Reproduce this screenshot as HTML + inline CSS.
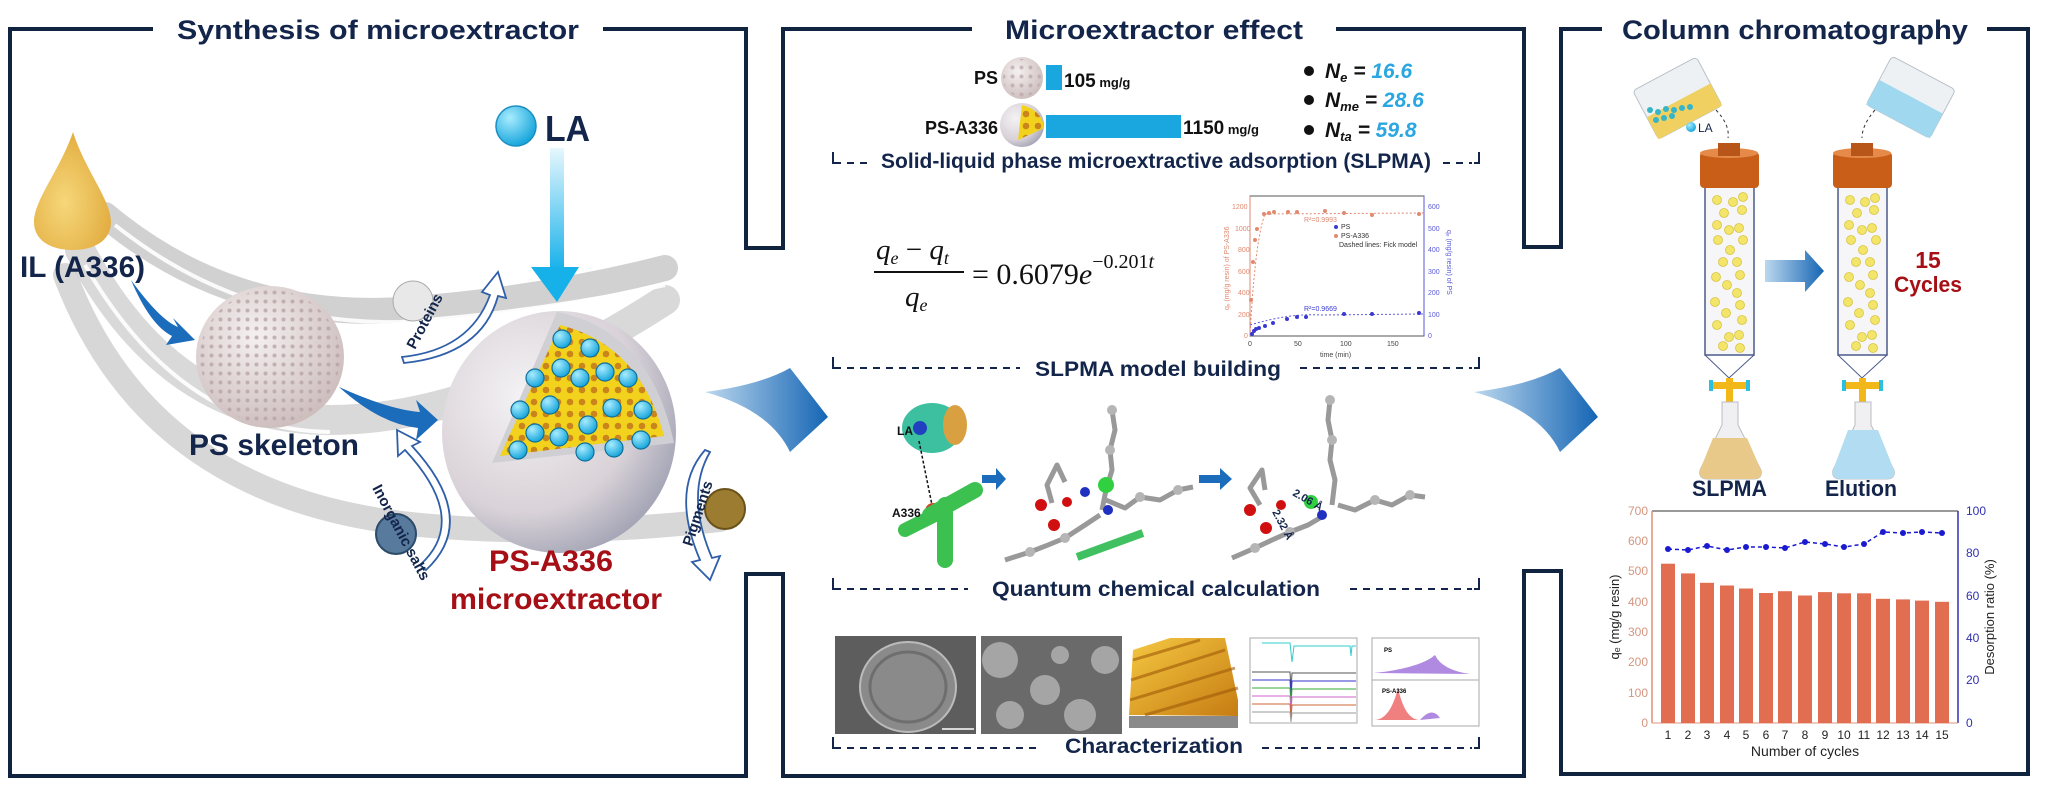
<!DOCTYPE html>
<html><head><meta charset="utf-8"><style>
html,body{margin:0;padding:0;background:#fff;}
svg{display:block;font-family:"Liberation Sans",Arial,sans-serif;}
</style></head><body>
<svg width="2046" height="789" viewBox="0 0 2046 789" xmlns="http://www.w3.org/2000/svg">
<defs>
<radialGradient id="drop" cx="0.4" cy="0.6" r="0.7"><stop offset="0" stop-color="#f6d77a"/><stop offset="1" stop-color="#e0a83a"/></radialGradient>
<radialGradient id="bigS" cx="0.35" cy="0.35" r="0.8"><stop offset="0" stop-color="#f4f2f4"/><stop offset="0.6" stop-color="#d9d2d8"/><stop offset="1" stop-color="#8f93a8"/></radialGradient>
<radialGradient id="psS" cx="0.4" cy="0.35" r="0.75"><stop offset="0" stop-color="#f5f0f0"/><stop offset="1" stop-color="#c9b8b8"/></radialGradient>
<radialGradient id="ball" cx="0.35" cy="0.3" r="0.7"><stop offset="0" stop-color="#a8ecff"/><stop offset="1" stop-color="#1aa7dc"/></radialGradient>
<linearGradient id="down" x1="0" y1="0" x2="0" y2="1"><stop offset="0" stop-color="#e6f7fd"/><stop offset="1" stop-color="#17b1ea"/></linearGradient>
<linearGradient id="rarr" x1="0" y1="0" x2="1" y2="0"><stop offset="0" stop-color="#bcd8ee"/><stop offset="1" stop-color="#1565b4"/></linearGradient>
<linearGradient id="gold" x1="0" y1="0" x2="1" y2="1"><stop offset="0" stop-color="#f5c842"/><stop offset="1" stop-color="#c67c12"/></linearGradient>
<pattern id="holes" width="9" height="9" patternUnits="userSpaceOnUse"><circle cx="4.5" cy="4.5" r="2" fill="#b8a4a8"/></pattern>
<pattern id="yholes" width="12" height="12" patternUnits="userSpaceOnUse"><rect width="12" height="12" fill="#f2d21c"/><circle cx="6" cy="6" r="3.3" fill="#c9851c"/></pattern>
</defs>

<g fill="none" stroke="#10233f" stroke-width="4">
<path d="M153 29 H10 V776 H746 V574 H783 V776 H1524 V571 H1561 V774 H2028 V29 H1987"/>
<path d="M603 29 H746 V248 H783 V29 H972"/>
<path d="M1336 29 H1524 V247 H1561 V29 H1602"/>
</g>
<g fill="#13254a" font-weight="bold" font-size="27">
<text x="177" y="39" textLength="402" lengthAdjust="spacingAndGlyphs">Synthesis of microextractor</text>
<text x="1005" y="39" textLength="298" lengthAdjust="spacingAndGlyphs">Microextractor effect</text>
<text x="1622" y="39" textLength="346" lengthAdjust="spacingAndGlyphs">Column chromatography</text>
</g>

<g fill="none" stroke="#c9c9c9" stroke-linecap="round">
<path d="M105 215 Q230 320 400 310 Q540 300 665 268" stroke-width="26" opacity="0.85"/>
<path d="M80 250 Q170 420 330 420 Q480 420 665 300" stroke-width="30" opacity="0.7"/>
<path d="M65 275 Q150 500 420 525 Q560 538 720 520" stroke-width="24" opacity="0.75"/>
</g>
<g fill="none" stroke="#fff" stroke-width="4" opacity="0.9">
<path d="M115 225 Q240 325 400 322 Q540 312 665 285"/>
<path d="M85 265 Q180 430 330 432"/>
</g>
<path d="M73 132 C 85 170 111 200 111 222 C 111 240 95 250 73 250 C 50 250 34 240 34 222 C 34 200 60 170 73 132 Z" fill="url(#drop)"/>
<text x="20" y="277" font-size="30" font-weight="bold" fill="#13254a" textLength="125" lengthAdjust="spacingAndGlyphs">IL (A336)</text>
<path d="M131 280 Q160 320 178 327 L173 318 L195 340 L166 345 L172 336 Q150 325 131 280Z" fill="#1c6cbc"/>
<path d="M339 387 Q390 410 420 412 L416 400 L438 420 L416 440 L418 428 Q380 424 339 387Z" fill="#1c6cbc"/>
<ellipse cx="270" cy="357" rx="74" ry="71" fill="url(#psS)"/>
<ellipse cx="270" cy="357" rx="70" ry="67" fill="url(#holes)" opacity="0.8"/>
<text x="189" y="455" font-size="30" font-weight="bold" fill="#13254a" textLength="170" lengthAdjust="spacingAndGlyphs">PS skeleton</text>
<circle cx="516" cy="126" r="20" fill="url(#ball)" stroke="#1b8fc0" stroke-width="1.5"/>
<text x="545" y="141" font-size="36" font-weight="bold" fill="#13254a" textLength="45" lengthAdjust="spacingAndGlyphs">LA</text>
<rect x="550" y="148" width="14" height="122" fill="url(#down)"/>
<path d="M531 267 L579 267 L557 302 Z" fill="#17b1ea"/>
<ellipse cx="559" cy="432" rx="117" ry="121" fill="url(#bigS)"/>
<path d="M557 312 Q650 330 674 443 L492 463 Z" fill="#cfcfd4"/>
<path d="M560 325 Q640 345 664 436 L500 456 Z" fill="url(#yholes)"/>
<g fill="url(#ball)" stroke="#0f6f98" stroke-width="1.2">
<circle cx="562" cy="339" r="9"/><circle cx="590" cy="348" r="9"/><circle cx="561" cy="368" r="9"/><circle cx="535" cy="378" r="9"/><circle cx="580" cy="378" r="9"/><circle cx="605" cy="372" r="9"/><circle cx="628" cy="378" r="9"/><circle cx="520" cy="410" r="9"/><circle cx="550" cy="405" r="9"/><circle cx="612" cy="408" r="9"/><circle cx="643" cy="410" r="9"/><circle cx="588" cy="425" r="9"/><circle cx="535" cy="433" r="9"/><circle cx="559" cy="437" r="9"/><circle cx="641" cy="440" r="9"/><circle cx="518" cy="450" r="9"/><circle cx="585" cy="452" r="9"/><circle cx="614" cy="448" r="9"/>
</g>
<circle cx="413" cy="301" r="20" fill="#e8e8e8" stroke="#aaa"/>
<circle cx="396" cy="534" r="20" fill="#587a9c" stroke="#2c4a6a" stroke-width="2"/>
<circle cx="725" cy="509" r="20" fill="#9c7c30" stroke="#6a521a" stroke-width="2"/>
<g fill="#fff" stroke="#2f5fa8" stroke-width="1.8">
<path d="M402 357 Q470 350 490 295 L482 292 L498 272 L506 298 L498 296 Q482 355 404 363 Z"/>
<path d="M420 565 Q470 520 405 450 L398 456 L397 430 L420 442 L412 446 Q480 520 426 570 Z"/>
<path d="M705 450 Q670 490 700 560 L692 562 L710 580 L720 556 L712 558 Q685 495 710 452 Z"/>
</g>
<text font-size="15" font-weight="bold" fill="#13254a" transform="translate(415 350) rotate(-62)">Proteins</text>
<text font-size="15" font-weight="bold" fill="#13254a" transform="translate(372 488) rotate(62)">Inorganic salts</text>
<text font-size="15" font-weight="bold" fill="#13254a" transform="translate(692 547) rotate(-72)">Pigments</text>
<text x="489" y="571" font-size="30" font-weight="bold" fill="#a50f15" textLength="124" lengthAdjust="spacingAndGlyphs">PS-A336</text>
<text x="450" y="609" font-size="30" font-weight="bold" fill="#a50f15" textLength="212" lengthAdjust="spacingAndGlyphs">microextractor</text>
<path d="M705 392 Q760 385 790 368 L828 417 L790 452 Q770 410 705 392 Z" fill="url(#rarr)"/>
<path d="M1474 392 Q1530 385 1560 368 L1598 417 L1560 452 Q1540 410 1474 392 Z" fill="url(#rarr)"/>

<text x="998" y="84" font-size="18" font-weight="bold" fill="#111" text-anchor="end">PS</text>
<circle cx="1022" cy="78" r="21" fill="url(#psS)"/><circle cx="1022" cy="78" r="19" fill="url(#holes)" opacity="0.7"/>
<rect x="1046" y="65" width="16" height="25" fill="#1aa7e0"/>
<text x="1064" y="87" font-size="19" font-weight="bold" fill="#111">105<tspan font-size="13"> mg/g</tspan></text>
<text x="998" y="134" font-size="18" font-weight="bold" fill="#111" text-anchor="end">PS-A336</text>
<circle cx="1022" cy="125" r="22" fill="url(#bigS)"/><path d="M1022 105 Q1042 110 1044 128 L1018 140 Z" fill="url(#yholes)"/>
<rect x="1046" y="115" width="135" height="23" fill="#1aa7e0"/>
<text x="1183" y="134" font-size="19" font-weight="bold" fill="#111">1150<tspan font-size="13"> mg/g</tspan></text>
<g font-size="21" font-weight="bold" fill="#111">
<circle cx="1309" cy="71" r="5"/><circle cx="1309" cy="100" r="5"/><circle cx="1309" cy="130" r="5"/>
<text x="1325" y="78" font-style="italic">N<tspan font-size="13" dy="4">e</tspan><tspan dy="-4"> = </tspan><tspan fill="#2aa6e0">16.6</tspan></text>
<text x="1325" y="107" font-style="italic">N<tspan font-size="13" dy="4">me</tspan><tspan dy="-4"> = </tspan><tspan fill="#2aa6e0">28.6</tspan></text>
<text x="1325" y="137" font-style="italic">N<tspan font-size="13" dy="4">ta</tspan><tspan dy="-4"> = </tspan><tspan fill="#2aa6e0">59.8</tspan></text>
</g>
<g fill="#13254a" font-weight="bold" font-size="21">
<text x="881" y="168" textLength="550" lengthAdjust="spacingAndGlyphs">Solid-liquid phase microextractive adsorption (SLPMA)</text>
<text x="1035" y="376" textLength="246" lengthAdjust="spacingAndGlyphs">SLPMA model building</text>
<text x="992" y="596" textLength="328" lengthAdjust="spacingAndGlyphs">Quantum chemical calculation</text>
<text x="1065" y="753" textLength="178" lengthAdjust="spacingAndGlyphs">Characterization</text>
</g>
<g fill="none" stroke="#13254a" stroke-width="2">
<path d="M833 152 V163 H841"/><path d="M847 163 H872" stroke-dasharray="7 6"/>
<path d="M1443 163 H1472" stroke-dasharray="7 6"/><path d="M1474 163 H1479 V152"/>
<path d="M833 357 V368 H841"/><path d="M847 368 H1020" stroke-dasharray="7 6"/>
<path d="M1300 368 H1472" stroke-dasharray="7 6"/><path d="M1474 368 H1479 V357"/>
<path d="M833 578 V589 H841"/><path d="M847 589 H968" stroke-dasharray="7 6"/>
<path d="M1350 589 H1472" stroke-dasharray="7 6"/><path d="M1474 589 H1479 V578"/>
<path d="M833 737 V748 H841"/><path d="M847 748 H1040" stroke-dasharray="7 6"/>
<path d="M1262 748 H1472" stroke-dasharray="7 6"/><path d="M1474 748 H1479 V737"/>
</g>
<g font-family="'Liberation Serif',serif" fill="#111">
<text x="876" y="259" font-size="29" font-style="italic">q<tspan font-size="18" dy="5">e</tspan><tspan dy="-5" font-style="normal"> − </tspan>q<tspan font-size="18" dy="5">t</tspan></text>
<line x1="874" y1="272" x2="964" y2="272" stroke="#111" stroke-width="2"/>
<text x="905" y="306" font-size="29" font-style="italic">q<tspan font-size="18" dy="5">e</tspan></text>
<text x="972" y="284" font-size="30">= 0.6079<tspan font-style="italic">e</tspan><tspan font-size="20" dy="-16">−0.201<tspan font-style="italic">t</tspan></tspan></text>
</g>
<g font-size="7" fill="#e08a70">
<rect x="1250" y="196" width="174" height="140" fill="none" stroke="#555" stroke-width="1"/>
<line x1="1250" y1="196" x2="1250" y2="336" stroke="#e08a70"/><line x1="1424" y1="196" x2="1424" y2="336" stroke="#5a5ad8"/>
<text x="1232" y="209">1200</text><text x="1235" y="231">1000</text><text x="1238" y="252">800</text><text x="1238" y="274">600</text><text x="1238" y="295">400</text><text x="1238" y="317">200</text><text x="1244" y="338">0</text>
<text transform="translate(1229 310) rotate(-90)" font-size="7">qₑ (mg/g resin) of PS-A336</text>
<g fill="#5a5ad8"><text x="1428" y="209">600</text><text x="1428" y="231">500</text><text x="1428" y="252">400</text><text x="1428" y="274">300</text><text x="1428" y="295">200</text><text x="1428" y="317">100</text><text x="1428" y="338">0</text>
<text transform="translate(1447 230) rotate(90)">qₑ (mg/g resin) of PS</text></g>
<g fill="#444"><text x="1248" y="346">0</text><text x="1294" y="346">50</text><text x="1340" y="346">100</text><text x="1387" y="346">150</text><text x="1320" y="357">time (min)</text></g>
<path d="M1250 336 Q1255 240 1265 214 L1424 213" fill="none" stroke="#e08a70" stroke-dasharray="2 2"/>
<g fill="#e08a70"><circle cx="1251" cy="300" r="2"/><circle cx="1253" cy="262" r="2"/><circle cx="1255" cy="240" r="2"/><circle cx="1257" cy="229" r="2"/><circle cx="1264" cy="214" r="2"/><circle cx="1269" cy="213" r="2"/><circle cx="1274" cy="212" r="2"/><circle cx="1288" cy="212" r="2"/><circle cx="1297" cy="212" r="2"/><circle cx="1325" cy="211" r="2"/><circle cx="1344" cy="213" r="2"/><circle cx="1372" cy="215" r="2"/><circle cx="1419" cy="214" r="2"/></g>
<text x="1304" y="222" font-size="7">R²=0.9993</text>
<path d="M1250 325 Q1290 313 1320 315 L1424 314" fill="none" stroke="#5a5ad8" stroke-dasharray="2 2"/>
<g fill="#3a3ad0"><circle cx="1252" cy="334" r="2"/><circle cx="1254" cy="331" r="2"/><circle cx="1256" cy="329" r="2"/><circle cx="1259" cy="328" r="2"/><circle cx="1265" cy="326" r="2"/><circle cx="1273" cy="323" r="2"/><circle cx="1287" cy="319" r="2"/><circle cx="1297" cy="317" r="2"/><circle cx="1306" cy="317" r="2"/><circle cx="1344" cy="314" r="2"/><circle cx="1372" cy="314" r="2"/><circle cx="1419" cy="313" r="2"/></g>
<text x="1304" y="311" font-size="7" fill="#3a3ad0">R²=0.9669</text>
<circle cx="1336" cy="227" r="2" fill="#3a3ad0"/><text x="1341" y="229" fill="#333">PS</text>
<circle cx="1336" cy="236" r="2" fill="#e08a70"/><text x="1341" y="238" fill="#333">PS-A336</text>
<text x="1339" y="247" fill="#333">Dashed lines: Fick model</text>
</g>
<ellipse cx="932" cy="428" rx="30" ry="25" fill="#3cc0a0"/><ellipse cx="955" cy="425" rx="12" ry="20" fill="#d8a040"/><circle cx="920" cy="428" r="7" fill="#2040c0"/>
<text x="897" y="435" font-size="12" font-weight="bold" fill="#111">LA</text>
<line x1="919" y1="441" x2="932" y2="505" stroke="#111" stroke-dasharray="3 2" stroke-width="1.5"/>
<circle cx="933" cy="511" r="8" fill="#d84020"/>
<path d="M930 515 L975 490 M945 505 L945 560" stroke="#3cc050" stroke-width="16" stroke-linecap="round" fill="none"/>
<path d="M905 530 L945 510" stroke="#3cc050" stroke-width="14" stroke-linecap="round"/>
<text x="892" y="517" font-size="12" font-weight="bold" fill="#111">A336</text>
<path d="M982 475 H996 V468 L1006 479 L996 490 V483 H982Z" fill="#1c6cbc"/>
<path d="M1199 475 H1220 V468 L1232 479 L1220 490 V483 H1199Z" fill="#1c6cbc"/>
<g fill="none" stroke="#999" stroke-width="5" stroke-linejoin="round">
<polyline points="1102,510 1106,490 1112,470 1110,450 1115,430 1112,410"/>
<polyline points="1106,500 1125,508 1140,497 1160,500 1178,490 1193,487"/>
<polyline points="1100,515 1085,525 1065,538 1048,545 1030,552 1005,560"/>
<polyline points="1065,482 1057,465 1047,485 1052,503"/>
<polyline points="1332,505 1335,480 1330,460 1332,440 1328,420 1330,400"/>
<polyline points="1338,505 1355,510 1375,500 1392,505 1410,495 1425,497"/>
<polyline points="1325,515 1308,525 1290,532 1272,540 1255,548 1232,558"/>
<polyline points="1265,490 1262,470 1250,488 1260,505"/>
</g>
<g fill="#b5b5b5">
<circle cx="1112" cy="410" r="5"/><circle cx="1110" cy="450" r="5"/><circle cx="1140" cy="497" r="5"/><circle cx="1178" cy="490" r="5"/><circle cx="1065" cy="538" r="5"/><circle cx="1030" cy="552" r="5"/><circle cx="1330" cy="400" r="5"/><circle cx="1332" cy="440" r="5"/><circle cx="1375" cy="500" r="5"/><circle cx="1410" cy="495" r="5"/><circle cx="1290" cy="532" r="5"/><circle cx="1255" cy="548" r="5"/>
</g>
<circle cx="1041" cy="505" r="6" fill="#d01010"/><circle cx="1054" cy="525" r="6" fill="#d01010"/><circle cx="1067" cy="502" r="5" fill="#d01010"/>
<circle cx="1106" cy="485" r="8" fill="#30d040"/><circle cx="1085" cy="492" r="5" fill="#2030c0"/><circle cx="1108" cy="510" r="5" fill="#2030c0"/>
<circle cx="1250" cy="510" r="6" fill="#d01010"/><circle cx="1266" cy="528" r="6" fill="#d01010"/><circle cx="1281" cy="505" r="5" fill="#d01010"/>
<circle cx="1311" cy="502" r="7" fill="#30d040"/><circle cx="1322" cy="515" r="5" fill="#2030c0"/>
<rect x="1075" y="541" width="70" height="8" fill="#40c060" transform="rotate(-20 1110 545)"/>
<text x="1292" y="495" font-size="11" font-weight="bold" fill="#13254a" transform="rotate(30 1292 495)">2.06 Å</text>
<text x="1272" y="512" font-size="11" font-weight="bold" fill="#13254a" transform="rotate(62 1272 512)">2.32 Å</text>
<rect x="835" y="636" width="141" height="98" fill="#5d5d5d"/>
<ellipse cx="908" cy="687" rx="48" ry="45" fill="#8a8a8a" stroke="#bbb" stroke-width="2"/>
<ellipse cx="908" cy="687" rx="38" ry="35" fill="none" stroke="#6e6e6e" stroke-width="3"/>
<line x1="942" y1="729" x2="974" y2="729" stroke="#fff" stroke-width="1.5"/>
<rect x="981" y="636" width="141" height="98" fill="#6a6a6a"/>
<g fill="#a5a5a5"><circle cx="1000" cy="660" r="18"/><circle cx="1045" cy="690" r="15"/><circle cx="1080" cy="715" r="16"/><circle cx="1105" cy="660" r="14"/><circle cx="1010" cy="715" r="14"/><circle cx="1060" cy="655" r="9"/></g>
<rect x="1129" y="716" width="109" height="12" fill="#8a8a8a"/>
<path d="M1129 715 L1133 650 L1170 638 L1225 638 L1238 700 L1238 716 Z" fill="url(#gold)"/>
<g stroke="#a05a08" stroke-width="3" opacity="0.6"><line x1="1133" y1="660" x2="1200" y2="640"/><line x1="1131" y1="680" x2="1225" y2="650"/><line x1="1130" y1="700" x2="1235" y2="668"/><line x1="1145" y1="715" x2="1238" y2="688"/></g>
<rect x="1250" y="638" width="107" height="85" fill="#fff" stroke="#aaa"/>
<g fill="none" stroke-width="1"><path d="M1262 643 H1290 L1292 662 L1294 646 H1350 L1351 656 L1352 646 H1356" stroke="#3cc"/>
<path d="M1252 672 H1290 L1291 690 L1292 673 H1356" stroke="#555"/><path d="M1252 680 H1290 L1291 697 L1292 681 H1356" stroke="#33c"/><path d="M1252 688 H1290 L1291 704 L1292 689 H1356" stroke="#3a3"/><path d="M1252 696 H1290 L1291 711 L1292 697 H1356" stroke="#c6c"/><path d="M1252 704 H1290 L1291 718 L1292 705 H1356" stroke="#c63"/><path d="M1252 712 H1290 L1291 722 L1292 713 H1356" stroke="#999"/></g>
<rect x="1372" y="638" width="107" height="88" fill="#fff" stroke="#aaa"/>
<line x1="1372" y1="680" x2="1479" y2="680" stroke="#aaa"/>
<path d="M1374 673 Q1420 668 1435 655 Q1442 670 1470 674 Z" fill="#b08ae0"/>
<path d="M1374 720 Q1390 720 1398 688 Q1405 720 1420 720 Z" fill="#f08080"/>
<path d="M1420 720 Q1432 706 1440 718 Z" fill="#b08ae0"/>
<text x="1384" y="652" font-size="6" font-weight="bold">PS</text><text x="1382" y="693" font-size="6" font-weight="bold">PS-A336</text>

<g transform="rotate(-28 1678 95)"><rect x="1640" y="70" width="72" height="55" rx="4" fill="#eef1f4" stroke="#b9c0c8"/><rect x="1640" y="100" width="72" height="25" fill="#f0d060"/></g>
<g fill="#36b4c8"><circle cx="1650" cy="110" r="3"/><circle cx="1658" cy="112" r="3"/><circle cx="1666" cy="109" r="3"/><circle cx="1674" cy="110" r="3"/><circle cx="1682" cy="108" r="3"/><circle cx="1656" cy="120" r="3"/><circle cx="1664" cy="118" r="3"/><circle cx="1672" cy="116" r="3"/><circle cx="1690" cy="107" r="3"/></g>
<circle cx="1691" cy="127" r="5" fill="url(#ball)"/><text x="1698" y="132" font-size="12" fill="#13254a">LA</text>
<g transform="rotate(28 1912 95)"><rect x="1876" y="70" width="72" height="55" rx="4" fill="#eef1f4" stroke="#b9c0c8"/><rect x="1876" y="97" width="72" height="28" fill="#9fd8ef"/></g>
<path d="M1716 110 Q1730 125 1728 138" fill="none" stroke="#333" stroke-dasharray="3 3"/>
<path d="M1875 110 Q1862 125 1862 138" fill="none" stroke="#333" stroke-dasharray="3 3"/>
<g>
<rect x="1705" y="187" width="49" height="168" fill="#f6f6f8" stroke="#4a5a8a" stroke-width="1.5"/>
<path d="M1705 355 L1729 378 L1754 355" fill="none" stroke="#4a5a8a"/>
<rect x="1700" y="152" width="59" height="36" rx="4" fill="#c85e18"/><ellipse cx="1729" cy="153" rx="29" ry="5" fill="#e58a48"/>
<rect x="1718" y="143" width="22" height="13" fill="#b8561a"/>
<rect x="1838" y="187" width="49" height="168" fill="#f6f6f8" stroke="#4a5a8a" stroke-width="1.5"/>
<path d="M1838 355 L1862 378 L1887 355" fill="none" stroke="#4a5a8a"/>
<rect x="1833" y="152" width="59" height="36" rx="4" fill="#c85e18"/><ellipse cx="1862" cy="153" rx="29" ry="5" fill="#e58a48"/>
<rect x="1851" y="143" width="22" height="13" fill="#b8561a"/>
</g>
<g fill="#f3e46a" stroke="#d8c440" stroke-width="0.8">
<circle cx="1717" cy="200" r="4.5"/><circle cx="1733" cy="202" r="4.5"/><circle cx="1743" cy="197" r="4.5"/><circle cx="1724" cy="213" r="4.5"/><circle cx="1742" cy="210" r="4.5"/><circle cx="1717" cy="225" r="4.5"/><circle cx="1729" cy="230" r="4.5"/><circle cx="1739" cy="228" r="4.5"/><circle cx="1718" cy="240" r="4.5"/><circle cx="1743" cy="240" r="4.5"/><circle cx="1730" cy="250" r="4.5"/><circle cx="1737" cy="262" r="4.5"/><circle cx="1723" cy="262" r="4.5"/><circle cx="1716" cy="277" r="4.5"/><circle cx="1740" cy="275" r="4.5"/><circle cx="1727" cy="285" r="4.5"/><circle cx="1737" cy="293" r="4.5"/><circle cx="1715" cy="302" r="4.5"/><circle cx="1740" cy="305" r="4.5"/><circle cx="1726" cy="313" r="4.5"/><circle cx="1742" cy="320" r="4.5"/><circle cx="1717" cy="325" r="4.5"/><circle cx="1729" cy="337" r="4.5"/><circle cx="1739" cy="335" r="4.5"/><circle cx="1723" cy="346" r="4.5"/><circle cx="1740" cy="348" r="4.5"/>
<circle cx="1850" cy="200" r="4.5"/><circle cx="1865" cy="202" r="4.5"/><circle cx="1875" cy="198" r="4.5"/><circle cx="1857" cy="213" r="4.5"/><circle cx="1874" cy="210" r="4.5"/><circle cx="1849" cy="225" r="4.5"/><circle cx="1862" cy="230" r="4.5"/><circle cx="1872" cy="228" r="4.5"/><circle cx="1851" cy="240" r="4.5"/><circle cx="1876" cy="240" r="4.5"/><circle cx="1863" cy="250" r="4.5"/><circle cx="1870" cy="262" r="4.5"/><circle cx="1856" cy="262" r="4.5"/><circle cx="1849" cy="277" r="4.5"/><circle cx="1873" cy="275" r="4.5"/><circle cx="1860" cy="285" r="4.5"/><circle cx="1870" cy="293" r="4.5"/><circle cx="1848" cy="302" r="4.5"/><circle cx="1873" cy="305" r="4.5"/><circle cx="1859" cy="313" r="4.5"/><circle cx="1875" cy="320" r="4.5"/><circle cx="1850" cy="325" r="4.5"/><circle cx="1862" cy="337" r="4.5"/><circle cx="1872" cy="335" r="4.5"/><circle cx="1856" cy="346" r="4.5"/><circle cx="1873" cy="348" r="4.5"/>
</g>
<path d="M1765 260 H1805 V250 L1824 271 L1805 292 V282 H1765 Z" fill="url(#rarr)"/>
<text x="1928" y="268" font-size="23" font-weight="bold" fill="#a50f15" text-anchor="middle">15</text>
<text x="1894" y="292" font-size="22" font-weight="bold" fill="#a50f15" textLength="68" lengthAdjust="spacingAndGlyphs">Cycles</text>
<g>
<rect x="1726" y="378" width="7" height="26" fill="#f2b81a"/><rect x="1711" y="382" width="37" height="7" fill="#f2b81a"/><rect x="1709" y="380" width="4" height="11" fill="#2cc0e0"/><rect x="1746" y="380" width="4" height="11" fill="#2cc0e0"/>
<rect x="1859" y="378" width="7" height="26" fill="#f2b81a"/><rect x="1844" y="382" width="37" height="7" fill="#f2b81a"/><rect x="1842" y="380" width="4" height="11" fill="#2cc0e0"/><rect x="1879" y="380" width="4" height="11" fill="#2cc0e0"/>
<path d="M1722 402 H1738 V425 L1761 470 Q1763 479 1753 479 H1708 Q1698 479 1700 470 L1722 425 Z" fill="#f0f0f2" stroke="#b8bcc4"/>
<path d="M1713 438 H1747 L1761 470 Q1763 479 1753 479 H1708 Q1698 479 1700 470 Z" fill="#e8c98a"/>
<path d="M1855 402 H1871 V425 L1894 470 Q1896 479 1886 479 H1841 Q1831 479 1833 470 L1855 425 Z" fill="#f0f0f2" stroke="#b8bcc4"/>
<path d="M1848 430 H1878 L1894 470 Q1896 479 1886 479 H1841 Q1831 479 1833 470 Z" fill="#b2dcf2"/>
</g>
<text x="1692" y="496" font-size="22" font-weight="bold" fill="#13254a" textLength="75" lengthAdjust="spacingAndGlyphs">SLPMA</text>
<text x="1825" y="496" font-size="22" font-weight="bold" fill="#13254a" textLength="72" lengthAdjust="spacingAndGlyphs">Elution</text>
<g>
<line x1="1652" y1="511" x2="1958" y2="511" stroke="#333"/>
<line x1="1652" y1="511" x2="1652" y2="723" stroke="#e09078" stroke-width="1.5"/>
<line x1="1958" y1="511" x2="1958" y2="723" stroke="#3030b0" stroke-width="1.5"/>
<line x1="1652" y1="723" x2="1958" y2="723" stroke="#e09078"/>
<g fill="#e26e52">
<rect x="1661" y="563.7" width="14" height="159.3"/><rect x="1681" y="573.4" width="14" height="149.6"/><rect x="1700" y="582.8" width="14" height="140.2"/><rect x="1720" y="585.5" width="14" height="137.5"/><rect x="1739" y="588.5" width="14" height="134.5"/><rect x="1759" y="593" width="14" height="130"/><rect x="1778" y="591.2" width="14" height="131.8"/><rect x="1798" y="595.5" width="14" height="127.5"/><rect x="1818" y="592.1" width="14" height="130.9"/><rect x="1837" y="593.3" width="14" height="129.7"/><rect x="1857" y="593.3" width="14" height="129.7"/><rect x="1876" y="598.8" width="14" height="124.2"/><rect x="1896" y="599.4" width="14" height="123.6"/><rect x="1915" y="600.6" width="14" height="122.4"/><rect x="1935" y="601.8" width="14" height="121.2"/>
</g>
<polyline points="1668,549 1688,550 1707,546 1727,550 1746,547 1766,547 1785,548 1805,542 1825,544 1844,547 1864,544 1883,532 1903,533 1922,532 1942,533" fill="none" stroke="#1a1ad0" stroke-width="1.5" stroke-dasharray="4 3"/>
<g fill="#1a1ad0"><circle cx="1668" cy="549" r="3"/><circle cx="1688" cy="550" r="3"/><circle cx="1707" cy="546" r="3"/><circle cx="1727" cy="550" r="3"/><circle cx="1746" cy="547" r="3"/><circle cx="1766" cy="547" r="3"/><circle cx="1785" cy="548" r="3"/><circle cx="1805" cy="542" r="3"/><circle cx="1825" cy="544" r="3"/><circle cx="1844" cy="547" r="3"/><circle cx="1864" cy="544" r="3"/><circle cx="1883" cy="532" r="3"/><circle cx="1903" cy="533" r="3"/><circle cx="1922" cy="532" r="3"/><circle cx="1942" cy="533" r="3"/></g>
<g font-size="12" fill="#d49680" text-anchor="end"><text x="1648" y="515">700</text><text x="1648" y="545">600</text><text x="1648" y="575">500</text><text x="1648" y="606">400</text><text x="1648" y="636">300</text><text x="1648" y="666">200</text><text x="1648" y="697">100</text><text x="1648" y="727">0</text></g>
<g font-size="12" fill="#3030b0"><text x="1966" y="515">100</text><text x="1966" y="557">80</text><text x="1966" y="600">60</text><text x="1966" y="642">40</text><text x="1966" y="684">20</text><text x="1966" y="727">0</text></g>
<g font-size="12" fill="#222" text-anchor="middle"><text x="1668" y="739">1</text><text x="1688" y="739">2</text><text x="1707" y="739">3</text><text x="1727" y="739">4</text><text x="1746" y="739">5</text><text x="1766" y="739">6</text><text x="1785" y="739">7</text><text x="1805" y="739">8</text><text x="1825" y="739">9</text><text x="1844" y="739">10</text><text x="1864" y="739">11</text><text x="1883" y="739">12</text><text x="1903" y="739">13</text><text x="1922" y="739">14</text><text x="1942" y="739">15</text></g>
<text x="1805" y="756" font-size="14" fill="#222" text-anchor="middle">Number of cycles</text>
<text transform="translate(1619 617) rotate(-90)" font-size="13" fill="#222" text-anchor="middle">qₑ (mg/g resin)</text>
<text transform="translate(1994 617) rotate(-90)" font-size="13" fill="#222" text-anchor="middle">Desorption ratio (%)</text>
</g>
</svg>
</body></html>
